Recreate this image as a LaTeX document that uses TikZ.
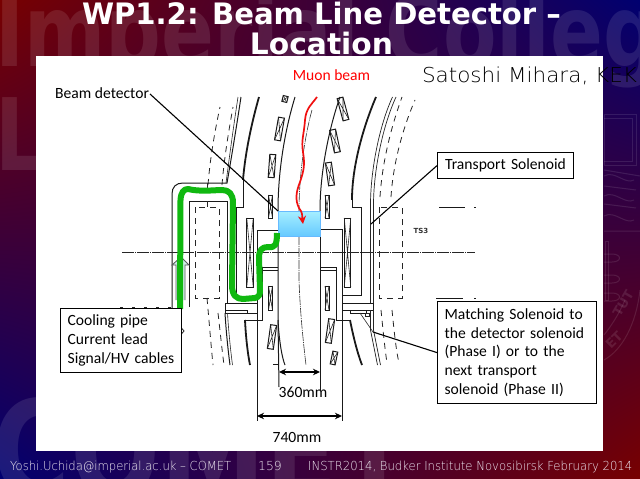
\documentclass[tikz,border=0pt]{standalone}
\usepackage{fontspec}
\usepackage{graphicx}
\usetikzlibrary{shadings,arrows.meta}
\setmainfont{Carlito}
\newfontfamily\thinf[UprightFont=* ExtraLight]{DejaVu Sans}
\newfontfamily\titlef{DejaVu Sans}
\definecolor{bgred}{HTML}{780000}
\definecolor{bgblue}{HTML}{000070}
\definecolor{pipegreen}{HTML}{10B810}
\definecolor{beamred}{HTML}{F01010}
\definecolor{mint}{HTML}{CDEFE6}
\definecolor{foot}{HTML}{EDE6F0}
\tikzset{
  mech/.style={black!90,line width=1pt},
  thick mech/.style={black!90,line width=1.8pt},
  thinline/.style={black!85,line width=.6pt},
  dashmech/.style={black!85,line width=.8pt,dash pattern=on 6pt off 5pt},
  centre/.style={black!80,line width=.6pt,dash pattern=on 9pt off 1pt on 1pt off 1pt},
  leader/.style={black,line width=1.1pt},
  callout/.style={draw=black,line width=1.2pt,fill=white,inner sep=0pt,anchor=north west,font=\fontsize{15.6}{18.9}\selectfont,align=left},
  plain label/.style={inner sep=0pt,font=\fontsize{15.6}{17}\selectfont,black},
  dim/.style={black,line width=1.2pt,{Stealth[length=7pt,width=6.5pt]}-{Stealth[length=7pt,width=6.5pt]}},
  wm/.style={inner sep=0pt,anchor=base west,text=white,text opacity=.1},
  crest/.style={white,opacity=.1,line width=1pt},
  footer/.style={inner sep=0pt,anchor=base,text=foot,font=\thinf\fontsize{12.4}{14}\selectfont}
}
\newcommand\xcoil[5]{%
  \begin{scope}[shift={(#1,#2)},rotate=#5]
    \draw[mech] (-#3/2,-#4/2) rectangle (#3/2,#4/2);
    \draw[thinline] (-#3/2,-#4/2) -- (#3/2,#4/2) (-#3/2,#4/2) -- (#3/2,-#4/2);
  \end{scope}}
\newcommand\narrow[1]{\scalebox{.78}[1]{#1}}
\begin{document}
\begin{tikzpicture}[x=1pt,y=-1pt]
\useasboundingbox (0,0) rectangle (640,479);
\clip (0,0) rectangle (640,479);
% background
\shade[upper left=bgred,upper right=bgblue,lower left=bgblue,lower right=bgred] (0,0) rectangle (640,479);
\node[wm,font=\titlef\bfseries\fontsize{100}{100}\selectfont] (wmA) at (-5,66) {\narrow{Imperial College}};
\node[wm,font=\titlef\bfseries\fontsize{100}{100}\selectfont] (wmB) at (-5,170) {\narrow{London}};
\node[wm,font=\titlef\bfseries\fontsize{136}{136}\selectfont] (wmC) at (-8,498) {\narrow{COMET}};
% crest
\draw[crest] (604,114) rectangle (636,165);
\draw[crest] (604,118) -- (632,118) -- (632,161) -- (604,161);
\draw[crest] (604,170) -- (640,176) (604,186) -- (636,190) (604,204) -- (636,208) (604,231) -- (640,231);
\draw[crest] (604,176) .. controls (615,170) and (625,185) .. (634,180);
\draw[crest] (604,196) .. controls (615,190) and (625,205) .. (634,200);
\draw[crest] (604,216) .. controls (615,210) and (625,225) .. (634,220);
\draw[crest] (605,241) rectangle (608,300);
\foreach \yy in {258,279,297} \draw[crest] (604,\yy-4) -- (612,\yy-4) .. controls (622,\yy-4) and (622,\yy+4) .. (612,\yy+4) -- (604,\yy+4);
\draw[crest] (604,360) .. controls (622,350) and (636,325) .. (640,290);
\draw[crest] (604,335) .. controls (612,325) and (620,312) .. (625,300);
\node[wm,rotate=60,font=\titlef\bfseries\fontsize{13}{13}\selectfont] (crestA) at (620,318) {TUT};
\node[wm,rotate=45,font=\titlef\bfseries\fontsize{13}{13}\selectfont] (crestB) at (611,350) {ET};
% title
\node[inner sep=0pt,text=white,align=center,font=\titlef\bfseries\fontsize{29.5}{30}\selectfont] (title) at (321.5,28.5) {\resizebox{479pt}{\height}{WP1.2: Beam Line Detector –}\\\resizebox{143pt}{\height}{Location}};
% white panel
\fill[white] (36,56) rectangle (603,451);
% mechanical drawing: outer dashed curves
\draw[dashmech] (208,185) .. controls (210,160) and (214,135) .. (220,107);
\draw[dashmech] (222,185) .. controls (224,160) and (228,135) .. (233,107);
\draw[dashmech] (380,197) .. controls (382,165) and (390,130) .. (402,97);
\draw[dashmech] (391,197) .. controls (393,165) and (402,130) .. (415,100);
\draw[dashmech] (195,207) rectangle (219,298);
\draw[dashmech] (379,207) rectangle (402,298);
\draw[dashmech] (207,298) .. controls (209,320) and (211,345) .. (213,365);
\draw[dashmech] (218,313) .. controls (220,330) and (222,350) .. (224,365);
\draw[dashmech] (381,310) .. controls (383,330) and (385,350) .. (387,363);
\draw[dashmech] (392,310) .. controls (394,330) and (396,350) .. (399,363);
\draw[mech] (439,207) -- (465,207) (474,207) -- (476,207) (436,298) -- (463,298) (474,298) -- (476,298);
\node[inner sep=0pt,text=black!80,font=\titlef\bfseries\fontsize{7}{7}\selectfont] (ts3) at (421,231) {TS3};
% marks peeping out around the cooling box
\draw[black!85,line width=.8pt,dash pattern=on 3pt off 9pt] (120,307) -- (172,307);
\draw[black!85,line width=.8pt] (181.5,328) -- (184,331) -- (181.5,334);
% outer left wall
\draw[mech] (241,97) .. controls (236,130) and (231,160) .. (227,183) -- (183,183) .. controls (176,183) and (172,187) .. (172,194) -- (172,308);
\draw[thinline] (238,97) .. controls (233,130) and (229,160) .. (226,183);
\draw[mech] (189,307) -- (189,201) -- (227,201) -- (227,303);
\draw[thinline] (207,183) -- (207,189) (207,201) -- (207,207);
% flanges
\draw[mech] (225,303) rectangle (257,313);
\draw[mech] (225,310) -- (247,310) -- (247,313);
\draw[mech] (342,303) -- (373,303) -- (373,310) -- (342,310);
\draw[mech] (350,310) -- (350,313) -- (366,313) -- (366,310);
\draw[mech] (225,313) .. controls (226,330) and (228,350) .. (230,365);
\draw[thinline] (227.5,313) .. controls (228.5,330) and (230.5,350) .. (232.5,365);
% central solenoid left
\draw[thick mech] (259,97) .. controls (251,125) and (245,155) .. (243,180);
\draw[mech] (243,180) -- (243,207) -- (236,207) -- (236,296) -- (257,296);
\draw[mech] (257,230) -- (278,230);
\draw[mech] (257,230) -- (257,296);
\draw[mech] (262,267) -- (278,267) (262,270) -- (278,270);
\draw[mech] (262,267) -- (262,320) -- (245,320);
\draw[thick mech] (245,320) .. controls (246,340) and (248,355) .. (250,365);
% central solenoid right
\draw[thick mech] (376,97) .. controls (364,125) and (352,165) .. (352,200);
\draw[mech] (352,200) -- (352,207) -- (361,207) -- (361,295) -- (342,295);
\draw[mech] (320,229) -- (342,229);
\draw[mech] (320,267) -- (336,267) (320,270) -- (336,270);
\draw[mech] (336,267) -- (336,320) -- (350,320);
\draw[thick mech] (350,320) .. controls (353,335) and (357,352) .. (362,365);
% outer right wall
\draw[thinline,line width=.7pt] (396,97) .. controls (383,125) and (373.5,170) .. (373.5,205) -- (373.5,303);
\draw[thinline,line width=.7pt] (392.5,97) .. controls (379.5,125) and (370.5,170) .. (370.5,205) -- (370.5,303);
\draw[thinline,line width=.7pt] (373.5,310) -- (373.5,330) .. controls (375.5,340) and (378.5,355) .. (380.5,365);
\draw[thinline,line width=.7pt] (370.5,310) -- (370.5,330) .. controls (372.5,340) and (375.5,355) .. (377.5,365);
\draw[thinline] (360,313) -- (373,332);
\draw[thinline] (365,313) rectangle (369,316);
% bore
\draw[mech] (295,97) .. controls (285,130) and (278,170) .. (278,211);
\draw[mech] (278,236) -- (278,320) .. controls (279,340) and (282,358) .. (285,365);
\draw[mech] (340,97) .. controls (330,125) and (320,170) .. (320,211);
\draw[mech] (320,236) -- (320,390);
\draw[mech] (278,320) -- (279,387);
\draw[mech] (273,364) -- (278,364);
\draw[centre] (312,110) .. controls (305,135) and (299,175) .. (299,211);
\draw[centre] (299,236) -- (299,280) .. controls (300,310) and (303,340) .. (306,365);
% coils
\xcoil{250}{252.5}{6.5}{69}{0}
\xcoil{347.5}{252.5}{6.5}{69}{0}
\xcoil{270.5}{206.5}{4}{23}{0}
\xcoil{272}{166}{6}{23}{-4}
\xcoil{279.5}{129}{6}{23}{-10}
\xcoil{285}{99}{5}{6}{-14}
\xcoil{327}{206.5}{4}{23}{0}
\xcoil{330}{174}{6}{23}{8}
\xcoil{335}{141}{6}{23}{12}
\xcoil{343}{109}{6}{23}{15}
\xcoil{270.5}{298}{4}{24}{0}
\xcoil{272}{337}{6}{24}{-8}
\xcoil{327}{298}{4}{24}{0}
\xcoil{330}{331}{6}{24}{-8}
\xcoil{334}{358}{5}{13}{-12}
% long vertical lines
\draw[mech] (257,296) -- (257,421);
\draw[mech] (342,229) -- (342,421);
% centre axis
\coordinate (axisL) at (122,252.7);
\coordinate (axisR) at (475,252.7);
\draw[black!85,line width=.8pt,dash pattern=on 12pt off 1pt on 1pt off 1pt] (axisL) -- (axisR);
% arrow
\fill[mint] (181,257) -- (189,265) -- (185,265) -- (185,300) -- (176,300) -- (176,265) -- (172,265) -- cycle;
\draw[black!65,line width=.8pt] (176,300) -- (176,265) -- (172,265) -- (181,257) -- (189,265) -- (185,265) -- (185,300);
% blue detector
\shade[top color=blue!18!cyan!35!white,bottom color=blue!35!cyan!60!white,draw=blue!45!cyan!60!white,line width=.9pt] (278,211) rectangle (320,236);
\node[inner sep=0pt,minimum width=42pt,minimum height=25pt] (detector) at (299,223.5) {};
% green pipe
\draw[pipegreen,line width=6pt,line cap=butt,line join=round] (180,309) -- (180.5,200) .. controls (181,192) and (184,189) .. (188,189)
  .. controls (200,192) and (215,190) .. (222,190) .. controls (229,190) and (233,194) .. (233,203) -- (232,285)
  .. controls (232,295) and (236,299) .. (243,299) -- (255,298) .. controls (259,297) and (260,295) .. (260,290)
  -- (259,258) .. controls (259,250) and (262,247) .. (268,247) .. controls (275,248) and (277,245) .. (277,233);
% red beam
\draw[beamred,line width=1.7pt,-{Stealth[length=8pt,width=8pt]}] (317,97) .. controls (312,104) and (306,108) .. (305,120) .. controls (304,135) and (301,140) .. (303,152) .. controls (305,165) and (304,170) .. (300,182) .. controls (296,192) and (295,200) .. (299,208) .. controls (303,213) and (302,216) .. (303,224);
% labels
\node[plain label,text=red] (muon) at (331.5,75) {Muon beam};
\node[inner sep=0pt,font=\thinf\fontsize{20.5}{20}\selectfont] (satoshi) at (529.5,76) {\resizebox{215pt}{\height}{Satoshi Mihara, KEK}};
\node[plain label,anchor=west] (beamdet) at (55,93) {Beam detector};
\node[callout,minimum width=136pt,minimum height=26pt,text width=136pt,align=center] (transport) at (437,152) {Transport Solenoid};
\node[callout,minimum height=64pt,text width=107pt,inner xsep=7pt] (cooling) at (60,308) {Cooling pipe\\Current lead\\Signal/HV cables};
\node[callout,minimum height=102pt,text width=145pt,inner xsep=7pt] (matching) at (437,301) {Matching Solenoid to\\the detector solenoid\\(Phase I) or to the\\next transport\\solenoid (Phase II)};
\node[plain label] (d360) at (303,392) {360mm};
\node[plain label] (d740) at (297,437) {740mm};
% leaders
\coordinate (beamtip) at (278,211);
\coordinate (transporttip) at (371,224);
\coordinate (matchtip) at (373,332);
\coordinate (beamstart) at (150,94);
\draw[leader] (beamstart) -- (beamtip);
\draw[leader] (transport.west) -- (transporttip);
\draw[leader] (matching.west) -- (matchtip);
% dimensions
\coordinate (a360) at (279,372); \coordinate (b360) at (320,372);
\coordinate (a740) at (257,416); \coordinate (b740) at (342,416);
\draw[dim] (a360) -- (b360);
\draw[dim] (a740) -- (b740);
% footer
\node[footer,anchor=base west] (f1) at (10,470) {\resizebox{221pt}{\height}{Yoshi.Uchida@imperial.ac.uk – COMET}};
\node[footer] (f2) at (270,470) {159};
\node[footer,anchor=base west] (f3) at (308,470) {\resizebox{324pt}{\height}{INSTR2014, Budker Institute Novosibirsk February 2014}};
\end{tikzpicture}
\end{document}
